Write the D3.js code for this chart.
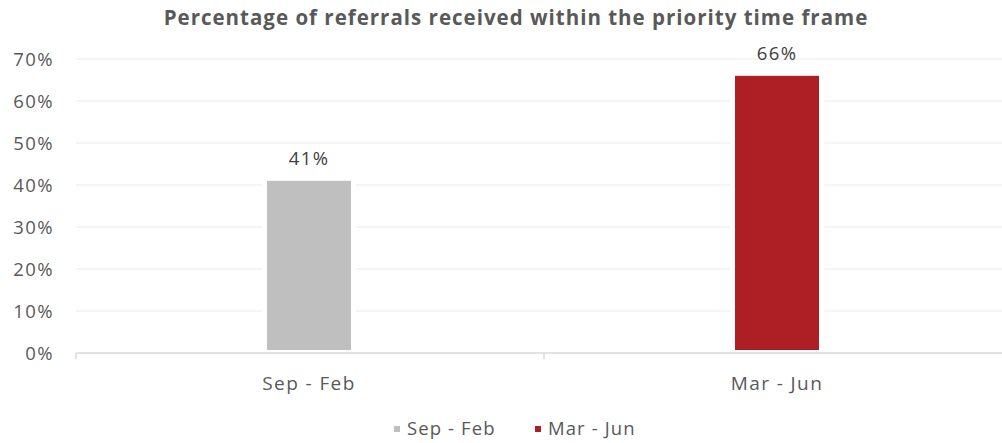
<!DOCTYPE html>
<html>
<head>
<meta charset="utf-8">
<script src="https://cdn.jsdelivr.net/npm/d3@7"></script>
<style>
  html, body { margin: 0; padding: 0; background: #fff; }
  svg { display: block; }
</style>
</head>
<body>
<svg id="chart" width="1002" height="443"></svg>
<script>
// Chart data
const categories = ["Sep - Feb", "Mar - Jun"];
const values = [41, 66];
const barColors = ["#bfbfbf", "#ad1f24"];
const yTicks = [0, 10, 20, 30, 40, 50, 60, 70];
const chartTitle = "Percentage of referrals received within the priority time frame";

const svg = d3.select("#chart");
const textColor = "#595959";
const font = "'Open Sans', 'DejaVu Sans', sans-serif";

const x = d3.scaleBand().domain(categories).range([75, 1011]).paddingInner(0).paddingOuter(0);
const y = d3.scaleLinear().domain([0, 70]).range([353, 59]);

// Title
svg.append("text")
  .attr("x", 516).attr("y", 25)
  .attr("text-anchor", "middle")
  .attr("font-family", font)
  .attr("font-weight", "bold")
  .attr("font-size", 20.5)
  .attr("letter-spacing", "1")
  .attr("fill", textColor)
  .text(chartTitle);

// Gridlines
svg.append("g")
  .selectAll("line")
  .data(yTicks.filter(d => d > 0))
  .join("line")
  .attr("x1", 76).attr("x2", 1002)
  .attr("y1", d => y(d)).attr("y2", d => y(d))
  .attr("stroke", "#f0f0f0").attr("stroke-width", 1.5);

// Y tick labels
svg.append("g")
  .selectAll("text")
  .data(yTicks)
  .join("text")
  .attr("x", 54).attr("y", d => y(d) + 6.5)
  .attr("text-anchor", "end")
  .attr("font-family", font)
  .attr("font-size", 18.5)
  .attr("letter-spacing", "1.4")
  .attr("fill", textColor)
  .text(d => d + "%");

const barWidth = 84;
const bars = svg.append("g")
  .selectAll("g")
  .data(categories.map((c, i) => ({ c, v: values[i], color: barColors[i] })))
  .join("g");

// White halo behind each bar breaks the gridlines around it
bars.append("rect")
  .attr("x", d => x(d.c) + x.bandwidth() / 2 - barWidth / 2 - 5)
  .attr("width", barWidth + 10)
  .attr("y", d => y(d.v) - 5)
  .attr("height", d => y(0) - y(d.v) + 3)
  .attr("fill", "#fff");

bars.append("rect")
  .attr("x", d => x(d.c) + x.bandwidth() / 2 - barWidth / 2)
  .attr("width", barWidth)
  .attr("y", d => y(d.v))
  .attr("height", d => y(0) - y(d.v) - 3)
  .attr("fill", d => d.color);

// Value labels
bars.append("text")
  .attr("x", d => x(d.c) + x.bandwidth() / 2)
  .attr("y", d => y(d.v) - 16)
  .attr("text-anchor", "middle")
  .attr("font-family", font)
  .attr("font-size", 18.5)
  .attr("letter-spacing", "1.4")
  .attr("fill", "#404040")
  .text(d => d.v + "%");

// X axis
const xAxis = svg.append("g").attr("transform", `translate(0,${y(0)})`);
xAxis.append("line")
  .attr("x1", 76).attr("x2", 1002)
  .attr("stroke", "#d9d9d9").attr("stroke-width", 1.5);
xAxis.selectAll(".tick")
  .data([75, x(categories[1])])
  .join("line")
  .attr("x1", d => d + 1).attr("x2", d => d + 1)
  .attr("y1", 0).attr("y2", 6)
  .attr("stroke", "#d9d9d9").attr("stroke-width", 1.5);
xAxis.selectAll("text")
  .data(categories)
  .join("text")
  .attr("x", d => x(d) + x.bandwidth() / 2)
  .attr("y", 37)
  .attr("text-anchor", "middle")
  .attr("font-family", font)
  .attr("font-size", 19)
  .attr("letter-spacing", "1.4")
  .attr("fill", textColor)
  .text(d => d);

// Legend
const legendItems = [
  { label: categories[0], color: barColors[0], x: 394 },
  { label: categories[1], color: barColors[1], x: 535 }
];
const legend = svg.append("g");
legend.selectAll("rect")
  .data(legendItems)
  .join("rect")
  .attr("x", d => d.x).attr("y", 426)
  .attr("width", 6).attr("height", 6)
  .attr("fill", d => d.color);
legend.selectAll("text")
  .data(legendItems)
  .join("text")
  .attr("x", d => d.x + 13).attr("y", 435)
  .attr("font-family", font)
  .attr("font-size", 18.5)
  .attr("letter-spacing", "1.1")
  .attr("fill", textColor)
  .text(d => d.label);
</script>
</body>
</html>
